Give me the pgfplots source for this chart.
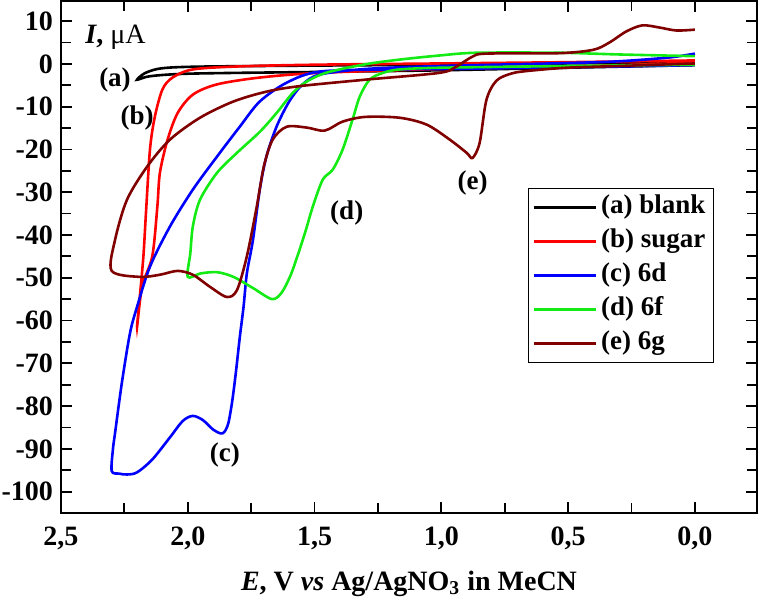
\documentclass[border=0pt]{standalone}
\usepackage{pgfplots}
\pgfplotsset{compat=1.18}
\usepackage{fontspec}
\setmainfont{Liberation Serif}
\definecolor{cA}{RGB}{0,0,0}
\definecolor{cB}{RGB}{255,0,0}
\definecolor{cC}{RGB}{0,0,255}
\definecolor{cD}{RGB}{20,235,20}
\definecolor{cE}{RGB}{128,0,0}
\newcommand{\lf}{\fontsize{13.5}{16}\selectfont\bfseries}
\newcommand{\tf}{\fontsize{14}{16}\selectfont\bfseries}
\begin{document}
\begin{tikzpicture}
\begin{axis}[
  scale only axis,
  width=348pt, height=256pt,
  x dir=reverse,
  xmin=-0.245, xmax=2.5,
  ymin=-105, ymax=14.7,
  xtick={0,0.5,...,2.5},
  minor x tick num=1,
  ytick={-100,-90,...,10},
  minor y tick num=1,
  tick align=inside,
  major tick length=5.5pt,
  minor tick length=5pt,
  every tick/.style={black, line width=0.9pt},
  axis line style={line width=1pt},
  /pgf/number format/assume math mode=true,
  xticklabel style={font=\tf, yshift=-3.5pt, /pgf/number format/.cd, fixed, fixed zerofill, precision=1, use comma},
  yticklabel style={font=\tf, xshift=-0.5pt, /pgf/number format/.cd, fixed, precision=0},
  scaled x ticks=false,
  xlabel={\textit{E}, V \textit{vs} Ag/AgNO\textsubscript{3} in MeCN},
  xlabel style={font=\tf, at={(axis description cs:0.5,0)}, anchor=center, yshift=-35.5pt},
  legend style={at={(0.671,0.635)}, anchor=north west, draw=black, line width=0.5pt,
    font=\lf, inner xsep=2pt, inner ysep=1pt,
    nodes={text height=10pt, text depth=3.5pt, inner ysep=1.75pt, inner xsep=2pt}},
  legend cell align=left,
  legend image code/.code={\draw[#1] (0pt,0pt) -- (31pt,0pt);},
  every axis plot/.append style={line width=1.3pt, smooth, tension=0.5},
  clip=false,
]
% (a) blank
\addplot[cA] coordinates {(0,0.5)(0.5,0.1)(1.0,-0.2)(1.5,-0.4)(1.9,-0.6)(2.05,-0.8)(2.12,-1.2)(2.17,-2.2)(2.2,-3.7)(2.16,-3.0)(2.1,-2.6)(2.0,-2.3)(1.8,-2.1)(1.5,-1.9)(1.0,-1.5)(0.5,-0.9)(0,-0.3)};
\addlegendentry{(a) blank}
% (b) sugar
\addplot[cB] coordinates {(0,0.8)(0.5,0.4)(1.0,0.1)(1.5,-0.2)(1.8,-0.6)(1.98,-1.3)(2.06,-3.2)(2.10,-6)(2.13,-12.4)(2.149,-20)(2.165,-35)(2.175,-45)(2.19,-55)(2.20,-61.5)(2.18,-52)(2.14,-45)(2.12,-33.4)(2.11,-25.5)(2.08,-17.8)(2.04,-11.5)(1.98,-7.2)(1.885,-4.8)(1.716,-3.2)(1.48,-2.1)(1.0,-1.2)(0.5,-0.6)(0,0.2)};
\addlegendentry{(b) sugar}
% (c) 6d
\addplot[cC] coordinates {(0,2.4)(0.1,1.5)(0.3,0.6)(0.5,0.2)(1.0,-0.5)(1.3,-1.2)(1.48,-2.5)(1.547,-4.8)(1.60,-8.8)(1.65,-14.7)(1.69,-21.7)(1.716,-29.4)(1.743,-41.2)(1.767,-49)(1.78,-56.8)(1.795,-64)(1.81,-72)(1.825,-79)(1.84,-84)(1.855,-86)(1.87,-86.4)(1.90,-85.5)(1.94,-83.3)(1.98,-82.3)(2.02,-83.5)(2.07,-87.3)(2.14,-92.5)(2.20,-95.5)(2.24,-96)(2.27,-95.8)(2.30,-95.2)(2.295,-90)(2.287,-86.4)(2.26,-74.6)(2.228,-63)(2.20,-56.8)(2.149,-47.4)(2.07,-38)(1.98,-29.4)(1.885,-21.7)(1.795,-14.7)(1.716,-8.8)(1.61,-4.4)(1.48,-1.8)(1.2,-1.3)(1.0,-1.2)(0.5,-0.8)(0,-0.3)};
\addlegendentry{(c) 6d}
% (d) 6f
\addplot[cD] coordinates {(0,-0.2)(0.5,-0.5)(1.0,-0.9)(1.164,-1.3)(1.23,-2.1)(1.283,-3.7)(1.322,-7.7)(1.35,-13)(1.389,-20)(1.428,-24.7)(1.468,-27.1)(1.507,-33.4)(1.535,-39)(1.565,-44.5)(1.595,-49.5)(1.63,-53.5)(1.668,-55)(1.743,-52.4)(1.82,-49.8)(1.885,-48.7)(1.95,-49)(2.00,-49.8)(1.99,-44.3)(1.98,-38)(1.952,-31.8)(1.885,-25.5)(1.806,-20.8)(1.716,-15.9)(1.65,-11.5)(1.586,-6.8)(1.53,-4.1)(1.45,-2.0)(1.3,-0.1)(1.164,1.0)(1.0,2.0)(0.86,2.6)(0.534,2.6)(0.3,2.2)(0,1.8)};
\addlegendentry{(d) 6f}
% (e) 6g
\addplot[cE] coordinates {(0,0.1)(0.3,-0.5)(0.506,-0.9)(0.65,-1.6)(0.72,-2.2)(0.782,-3.9)(0.822,-8.4)(0.849,-18.5)(0.877,-22)(0.90,-20.8)(0.967,-17.7)(1.058,-14.2)(1.164,-12.6)(1.30,-12.4)(1.389,-13.5)(1.46,-15.6)(1.53,-14.9)(1.61,-14.7)(1.665,-17.7)(1.70,-24)(1.728,-33.4)(1.767,-45)(1.806,-52.9)(1.846,-54.5)(1.913,-52.1)(1.98,-49.3)(2.04,-48.4)(2.11,-49.3)(2.19,-49.8)(2.30,-48.4)(2.287,-41.2)(2.24,-31.8)(2.16,-24)(2.07,-17.7)(1.952,-12.6)(1.82,-8.8)(1.69,-6.5)(1.558,-5.2)(1.30,-3.7)(1.007,-2.1)(0.94,-0.6)(0.877,1.7)(0.822,2.4)(0.534,2.5)(0.40,3.3)(0.337,5.0)(0.27,7.6)(0.207,9.0)(0.14,8.5)(0.073,7.8)(0,8.0)};
\addlegendentry{(e) 6g}
\node[font=\lf, anchor=center] at (axis cs:2.287,-3.7) {(a)};
\node[font=\lf, anchor=center] at (axis cs:2.20,-12.6) {(b)};
\node[font=\lf, anchor=center] at (axis cs:1.854,-91.5) {(c)};
\node[font=\lf, anchor=center] at (axis cs:1.373,-34.9) {(d)};
\node[font=\lf, anchor=center] at (axis cs:0.877,-27.8) {(e)};
\node[font=\tf, anchor=west, inner sep=0pt] at (axis cs:2.405,6.3) {\textit{I}, \mdseries μA};
\end{axis}
\pgfresetboundingbox
\path[use as bounding box] ([shift={(-30.5pt,-42.5pt)}]current axis.south west) rectangle ([shift={(1.5pt,0.5pt)}]current axis.north east);
\end{tikzpicture}
\end{document}
